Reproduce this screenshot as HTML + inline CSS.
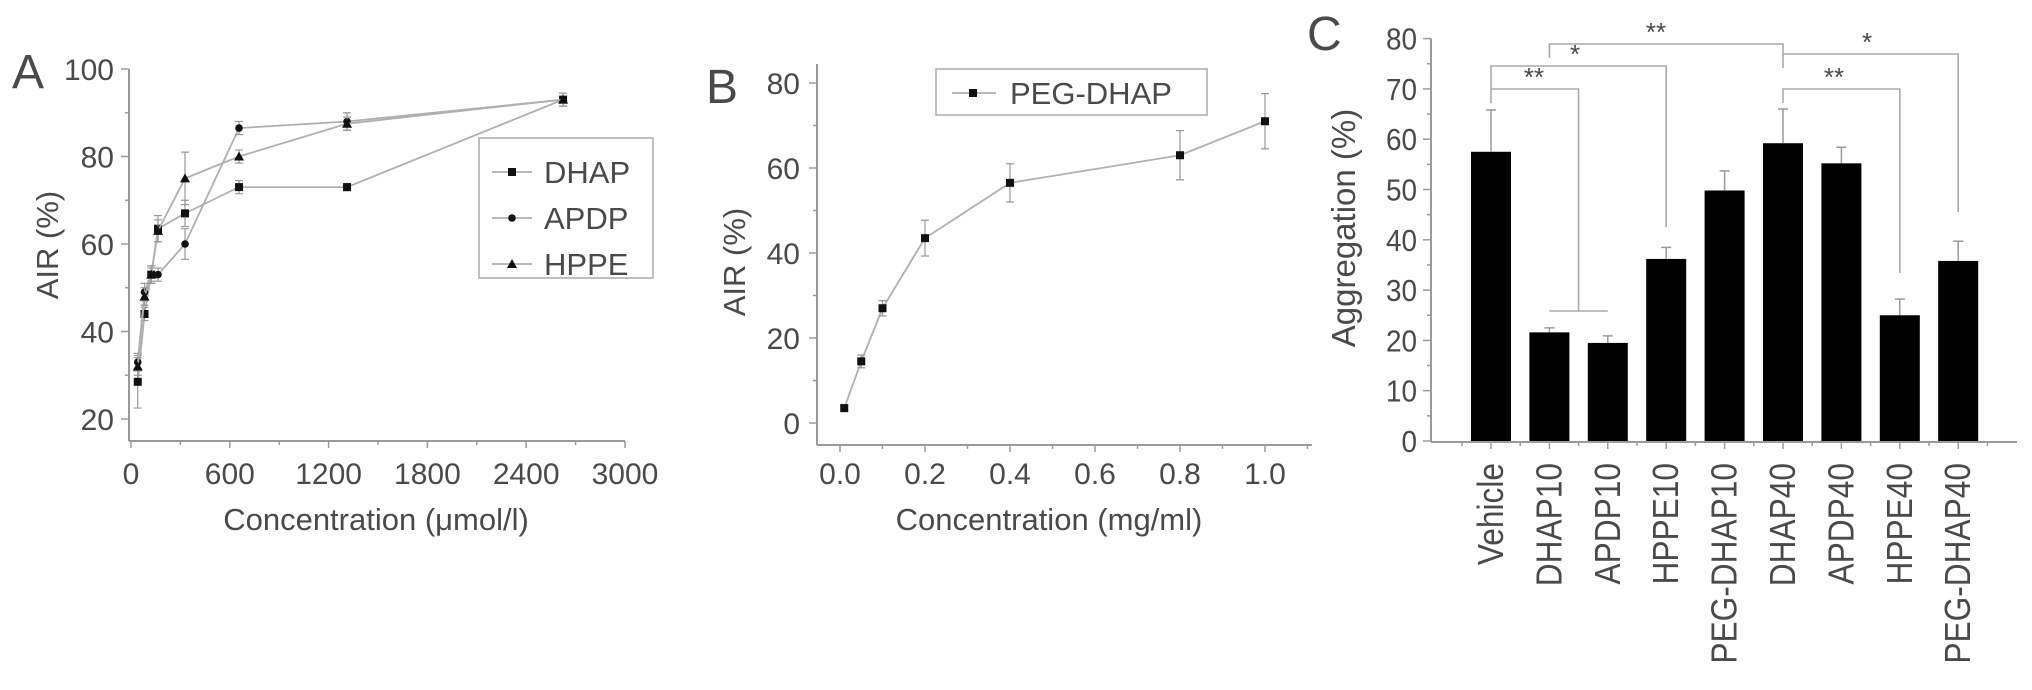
<!DOCTYPE html>
<html><head><meta charset="utf-8">
<style>
html,body{margin:0;padding:0;background:#fff;}
svg{display:block;font-family:"Liberation Sans",sans-serif;}
text{fill:#4a4a4a;}
</style></head>
<body>
<svg id="fig" width="2032" height="690" viewBox="0 0 2032 690" xmlns="http://www.w3.org/2000/svg">
  <g id="panelA"></g>
  <g id="panelB"></g>
  <g id="panelC"></g>
</svg>
<script>
// ---------- Panel A data ----------
const concA = [41, 82, 123, 164, 328, 656, 1312, 2624];
const dhapA = [28.5, 44, 53, 63.5, 67, 73, 73, 93];
const dhapErr = [6, 1.5, 1.5, 3, 3, 1.5, 0.8, 1.5];
const apdpA = [33, 49, 53, 53, 60, 86.5, 88, 93];
const apdpErr = [2, 2, 2, 1.5, 3.5, 1.5, 2, 1.5];
const hppeA = [32, 48, 53, 63, 75, 80, 87.5, 93];
const hppeErr = [2, 2, 2, 2.5, 6, 1.5, 1.5, 1.5];
const ticksAx = [0, 600, 1200, 1800, 2400, 3000];
const ticksAy = [20, 40, 60, 80, 100];
// ---------- Panel B data ----------
const concB = [0.01, 0.05, 0.1, 0.2, 0.4, 0.8, 1.0];
const pegB = [3.5, 14.5, 27, 43.5, 56.5, 63, 71];
const pegErr = [0.8, 1.5, 1.8, 4.2, 4.5, 5.8, 6.5];
const ticksBx = ["0.0", "0.2", "0.4", "0.6", "0.8", "1.0"];
const ticksBy = [0, 20, 40, 60, 80];
// ---------- Panel C data ----------
const catsC = ["Vehicle", "DHAP10", "APDP10", "HPPE10", "PEG-DHAP10", "DHAP40", "APDP40", "HPPE40", "PEG-DHAP40"];
const valsC = [57.5, 21.6, 19.5, 36.2, 49.8, 59.2, 55.2, 25, 35.8];
const errC = [8.3, 0.9, 1.4, 2.3, 3.9, 6.8, 3.2, 3.2, 3.9];
const ticksCy = [0, 10, 20, 30, 40, 50, 60, 70, 80];

const NS = "http://www.w3.org/2000/svg";
function mk(parent, tag, attrs, txt) {
  const e = document.createElementNS(NS, tag);
  for (const k in attrs) e.setAttribute(k, attrs[k]);
  if (txt !== undefined) e.textContent = txt;
  parent.appendChild(e);
  return e;
}
const AX = "#9a9a9a", LN = "#b0b0b0";

// ===== Panel A =====
const gA = document.getElementById('panelA');
const xA = v => 131 + v * (625 - 131) / 3000;
const yA = v => 69 + (100 - v) * 4.375;
let e;
e = mk(gA, 'line', {x1:129, y1:441, x2:625, y2:441, stroke:AX, 'stroke-width':2});
 
e = mk(gA, 'line', {x1:129, y1:441, x2:129, y2:yA(100), stroke:AX, 'stroke-width':2});
 
for (let v = 0; v <= 3000; v += 300) {
  const major = v % 600 === 0;
  mk(gA, 'line', {x1:xA(v), y1:441, x2:xA(v), y2:441 + (major ? 7 : 4), stroke:AX, 'stroke-width':1.5});
}
ticksAx.forEach(v => {
  e = mk(gA, 'text', {x:xA(v), y:484, 'font-size':30, 'text-anchor':'middle'}, String(v));
   
});
for (let v = 20; v <= 100; v += 10) {
  const major = v % 20 === 0;
  mk(gA, 'line', {x1:129 - (major ? 8 : 4), y1:yA(v), x2:129, y2:yA(v), stroke:AX, 'stroke-width':1.5});
}
ticksAy.forEach(v => {
  e = mk(gA, 'text', {x:114, y:yA(v) + 11, 'font-size':30, 'text-anchor':'end'}, String(v));
   
});
e = mk(gA, 'text', {x:0, y:0, 'font-size':31, 'text-anchor':'middle', transform:'translate(58,245) rotate(-90)'}, 'AIR (%)');
 
e = mk(gA, 'text', {x:376, y:530, 'font-size':31, 'text-anchor':'middle'}, 'Concentration (\u03BCmol/l)');
 
e = mk(gA, 'text', {x:12, y:88, 'font-size':48, fill:'#222'}, 'A');
 

function marker(g, type, x, y) {
  if (type === 'sq') return mk(g, 'rect', {x:x - 4, y:y - 4, width:8, height:8, fill:'#111'});
  if (type === 'ci') return mk(g, 'circle', {cx:x, cy:y, r:3.8, fill:'#111'});
  return mk(g, 'polygon', {points:`${x},${y - 5} ${x - 5},${y + 4} ${x + 5},${y + 4}`, fill:'#111'});
}
function series(g, name, xs, ys, errs, xf, yf, type) {
  const sg = mk(g, 'g', {});
  
  
  const pts = xs.map((x, i) => xf(x) + ',' + yf(ys[i])).join(' ');
  mk(sg, 'polyline', {points:pts, fill:'none', stroke:LN, 'stroke-width':1.8});
  xs.forEach((x, i) => {
    const px = xf(x), y1 = yf(ys[i] + errs[i]), y2 = yf(ys[i] - errs[i]);
    mk(sg, 'path', {d:`M${px},${y1}V${y2}M${px - 4},${y1}H${px + 4}M${px - 4},${y2}H${px + 4}`, stroke:'#999', 'stroke-width':1.2, fill:'none'});
  });
  xs.forEach((x, i) => {
    const m = marker(sg, type, xf(x), yf(ys[i]));
    
    
  });
}
series(gA, 'dhap-series', concA, dhapA, dhapErr, xA, yA, 'sq');
series(gA, 'apdp-series', concA, apdpA, apdpErr, xA, yA, 'ci');
series(gA, 'hppe-series', concA, hppeA, hppeErr, xA, yA, 'tr');

// legend A
const lgA = mk(gA, 'g', {});
 
mk(lgA, 'rect', {x:479, y:138, width:174, height:140, fill:'#fff', stroke:'#aaa', 'stroke-width':1.5});
[['DHAP', 'sq'], ['APDP', 'ci'], ['HPPE', 'tr']].forEach((d, i) => {
  const yy = 172 + i * 46;
  const le = mk(lgA, 'g', {});
  
  
  mk(le, 'line', {x1:492, y1:yy, x2:532, y2:yy, stroke:LN, 'stroke-width':1.8});
  marker(le, d[1], 512, yy);
  mk(le, 'text', {x:544, y:yy + 11, 'font-size':31}, d[0]);
});

// ===== Panel B =====
const gB = document.getElementById('panelB');
const xB = v => 840 + v * 425;
const yB = v => 423 - v * 4.25;
e = mk(gB, 'line', {x1:817, y1:445, x2:1312, y2:445, stroke:AX, 'stroke-width':2});
 
e = mk(gB, 'line', {x1:817, y1:445, x2:817, y2:64, stroke:AX, 'stroke-width':2});
 
for (let i = 0; i <= 11; i++) {
  const v = i * 0.1, major = i % 2 === 0;
  mk(gB, 'line', {x1:xB(v), y1:445, x2:xB(v), y2:445 + (major ? 7 : 4), stroke:AX, 'stroke-width':1.5});
}
ticksBx.forEach(t => {
  e = mk(gB, 'text', {x:xB(parseFloat(t)), y:484, 'font-size':30, 'text-anchor':'middle'}, t);
   
});
for (let v = 0; v <= 80; v += 10) {
  const major = v % 20 === 0;
  mk(gB, 'line', {x1:817 - (major ? 8 : 4), y1:yB(v), x2:817, y2:yB(v), stroke:AX, 'stroke-width':1.5});
}
ticksBy.forEach(v => {
  e = mk(gB, 'text', {x:800, y:yB(v) + 11, 'font-size':30, 'text-anchor':'end'}, String(v));
   
});
e = mk(gB, 'text', {x:0, y:0, 'font-size':31, 'text-anchor':'middle', transform:'translate(745,262) rotate(-90)'}, 'AIR (%)');
 
e = mk(gB, 'text', {x:1049, y:530, 'font-size':31, 'text-anchor':'middle'}, 'Concentration (mg/ml)');
 
e = mk(gB, 'text', {x:706, y:103, 'font-size':48, fill:'#222'}, 'B');
 
series(gB, 'peg-dhap-series', concB, pegB, pegErr, xB, yB, 'sq');
const lgB = mk(gB, 'g', {});
 
mk(lgB, 'rect', {x:936, y:69, width:271, height:46, fill:'#fff', stroke:'#aaa', 'stroke-width':1.5});
mk(lgB, 'line', {x1:952, y1:93, x2:996, y2:93, stroke:LN, 'stroke-width':1.8});
marker(lgB, 'sq', 973, 93);
mk(lgB, 'text', {x:1010, y:104, 'font-size':31}, 'PEG-DHAP');

// ===== Panel C =====
const gC = document.getElementById('panelC');
const xC = i => 1491 + i * 58.4;
const yC = v => 441 - v * 5.03;
const barW = 40;
catsC.forEach((c, i) => {
  const x = xC(i), v = valsC[i], er = errC[i];
  const b = mk(gC, 'rect', {x:x - barW / 2, y:yC(v), width:barW, height:yC(0) - yC(v), fill:'#000'});
  
  
  const eb = mk(gC, 'path', {d:`M${x},${yC(v)}V${yC(v + er)}M${x - 5},${yC(v + er)}H${x + 5}`, stroke:'#999', 'stroke-width':1.5, fill:'none'});
   
  const t = mk(gC, 'text', {x:0, y:0, 'font-size':36, 'text-anchor':'end', transform:`translate(${x + 12},463) rotate(-90) scale(0.88,1)`}, c);
   
  mk(gC, 'line', {x1:x, y1:442, x2:x, y2:449, stroke:AX, 'stroke-width':1.5});
  mk(gC, 'line', {x1:x + 29.2, y1:442, x2:x + 29.2, y2:446, stroke:AX, 'stroke-width':1.5});
});
mk(gC, 'line', {x1:1462, y1:442, x2:1462, y2:446, stroke:AX, 'stroke-width':1.5});
e = mk(gC, 'line', {x1:1431, y1:442, x2:2017, y2:442, stroke:AX, 'stroke-width':2});
 
e = mk(gC, 'line', {x1:1431, y1:442, x2:1431, y2:yC(80), stroke:AX, 'stroke-width':2});
 
for (let v = 0; v <= 80; v += 5) {
  const major = v % 10 === 0;
  mk(gC, 'line', {x1:1431 - (major ? 8 : 4), y1:yC(v), x2:1431, y2:yC(v), stroke:AX, 'stroke-width':1.5});
}
ticksCy.forEach(v => {
  e = mk(gC, 'text', {x:1417, y:yC(v) + 11, 'font-size':31, 'text-anchor':'end', transform:`translate(${1417*0.1},0) scale(0.9,1)`}, String(v));
   
});
e = mk(gC, 'text', {x:0, y:0, 'font-size':33, 'text-anchor':'middle', transform:'translate(1355,228) rotate(-90)'}, 'Aggregation (%)');
 
e = mk(gC, 'text', {x:1307, y:50, 'font-size':48, fill:'#222'}, 'C');
 

// significance brackets
function bracket(name, x1, yTop, yL, x2, yR, label, lx, extra) {
  const g = mk(gC, 'g', {});
  
  
  mk(g, 'path', {d:`M${x1},${yL}V${yTop}H${x2}V${yR}` + (extra || ''), stroke:'#aaa', 'stroke-width':1.6, fill:'none'});
  mk(g, 'text', {x:lx, y:yTop - 3, 'font-size':26, 'text-anchor':'middle', fill:'#333'}, label);
}
bracket('sig-vehicle-dhap10-apdp10', xC(0), 89, 103, (xC(1) + xC(2)) / 2, 311, '**', 1534, `M${xC(1)},311H${xC(2)}`);
bracket('sig-vehicle-hppe10', xC(0), 66, 89, xC(3), 227, '*', 1575);
bracket('sig-dhap10-dhap40', xC(1), 44, 58, xC(5), 57, '**', 1656);
bracket('sig-dhap40-pegdhap40', xC(5), 54, 68, xC(8), 212, '*', 1867);
bracket('sig-dhap40-hppe40', xC(5), 89, 103, xC(7), 273, '**', 1834);
</script>
</body></html>
